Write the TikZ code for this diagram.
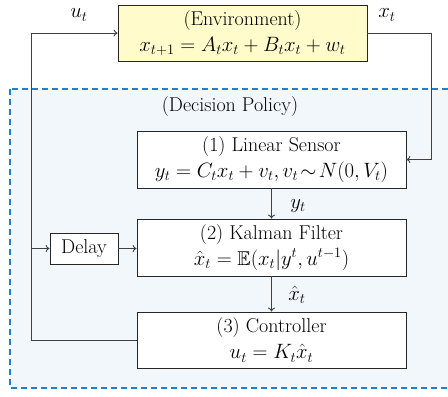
\documentclass[tikz,border=0pt]{standalone}
\usepackage{amsmath,amssymb}
\usetikzlibrary{arrows.meta}
\definecolor{envfill}{HTML}{FFFBCB}
\definecolor{polfill}{HTML}{F2F7FC}
\definecolor{polline}{HTML}{1F80D0}
\definecolor{wire}{HTML}{404040}
\tikzset{
  blk/.style={draw=black!85, line width=0.8pt, fill=white, minimum width=269pt, minimum height=57pt, align=center, inner sep=0pt, font=\fontsize{20}{26}\selectfont},
  envblk/.style={blk, fill=envfill, minimum width=249pt, minimum height=56pt},
  delayblk/.style={draw=black!85, line width=0.8pt, fill=white, minimum width=68pt, minimum height=31pt, inner sep=0pt, font=\fontsize{20}{24}\selectfont},
  conn/.style={draw=wire, line width=0.9pt},
  arr/.style={conn, -{To[length=4pt,width=7pt]}},
  lbl/.style={font=\fontsize{20}{24}\selectfont, inner sep=0pt}
}
\begin{document}
\begin{tikzpicture}[x=1pt,y=-1pt]
\useasboundingbox (0,0) rectangle (448,397);
\begin{scope}
\clip (0,0) rectangle (448,397);
\draw[fill=polfill, draw=polline, dashed, dash pattern=on 6pt off 4pt, line width=1.1pt] (10,89) rectangle (460,388);
\end{scope}
\node[lbl] (dp) at (230,107) {(Decision Policy)};
\node[envblk] (env) at (242.5,33) {(Environment)\\ $x_{t+1} = A_t x_t + B_t x_t + w_t$};
\node[blk] (sen) at (271.5,159.5) {(1) Linear Sensor\\ $y_t = C_t x_t + v_t, v_t\!\sim\! N(0,V_t)$};
\node[blk] (kal) at (271.5,247.5) {(2) Kalman Filter\\ $\hat{x}_t = \mathbb{E}(x_t | y^t, u^{t-1})$};
\node[blk, minimum height=56pt] (ctl) at (271.5,340) {(3) Controller\\ $u_t = K_t \hat{x}_t$};
\node[delayblk] (del) at (84,248.5) {Delay};
\coordinate (lt) at (31,33);
\coordinate (lb) at (31,340);
\coordinate (ld) at (31,248.5);
\coordinate (rt) at (431,33);
\coordinate (rb) at (431,159.5);
\draw[arr] (ctl.west) -- (lb) -- (lt) -- (env.west);
\draw[arr] (ld) -- (del.west);
\draw[arr] (del.east) -- (del.east -| kal.west);
\draw[arr] (env.east) -- (rt) -- (rb) -- (sen.east);
\draw[arr] (sen.south) -- (kal.north);
\draw[arr] (kal.south) -- (ctl.north);
\node[lbl] (ut) at (79,15) {$u_t$};
\node[lbl] (xt) at (387,15) {$x_t$};
\node[lbl] (yt) at (298,206) {$y_t$};
\node[lbl] (xh) at (297,295) {$\hat{x}_t$};
\end{tikzpicture}
\end{document}
